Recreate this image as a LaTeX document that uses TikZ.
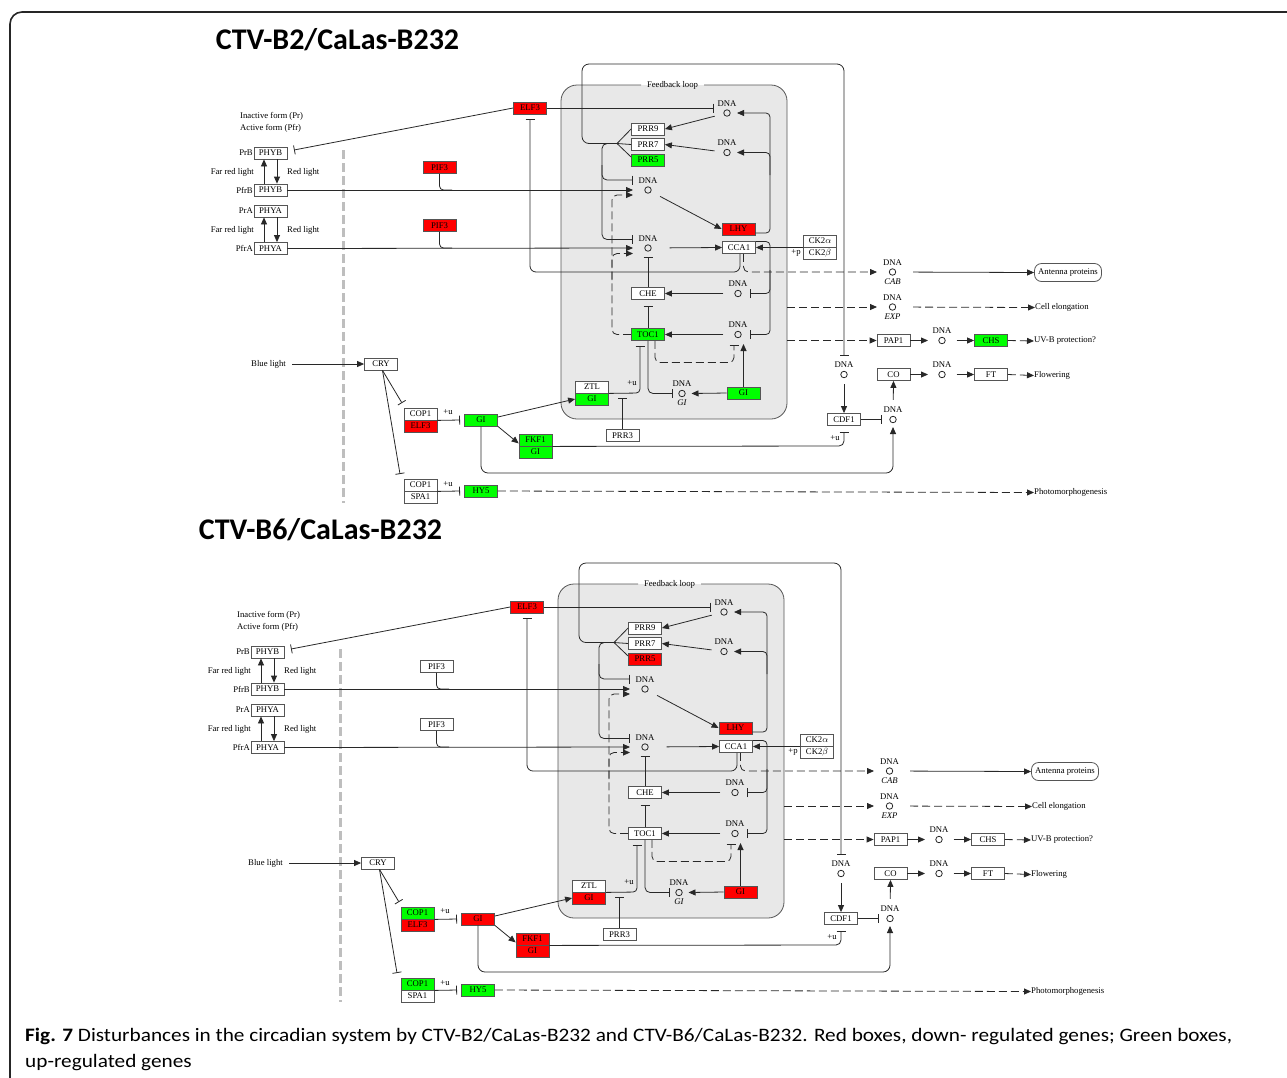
\documentclass[tikz,border=0pt]{standalone}
\usepackage{fontspec}
\setmainfont{Liberation Serif}
\newfontfamily\capfont{Carlito}
\usetikzlibrary{arrows.meta}

\definecolor{kred}{RGB}{255,0,0}
\definecolor{kgreen}{RGB}{0,255,0}
\definecolor{kline}{RGB}{40,40,40}
\definecolor{kbox}{RGB}{85,85,85}
\definecolor{kloop}{RGB}{232,232,232}
\definecolor{kdiv}{RGB}{190,190,190}

\newsavebox\capbox
\newdimen\capw

\tikzset{
  kfont/.style={font=\fontsize{8.7}{9}\selectfont},
  tx/.style={kfont, inner sep=0pt},
  gene/.style={draw=kbox, line width=0.8pt, fill=white, minimum width=33pt,
    minimum height=12pt, inner sep=0pt, kfont},
  gw/.style={fill=white}, gr/.style={fill=kred}, gg/.style={fill=kgreen},
  dna/.style={circle, draw=kline, line width=0.8pt, minimum size=6.5pt, inner sep=0pt,
    label={[tx, label distance=3pt]above:DNA}},
  glab/.style={label={[inner sep=0pt, label distance=2.5pt,
    font=\fontsize{8.7}{9}\selectfont\itshape]below:#1}},
  ln/.style={draw=kline, line width=0.8pt},
  act/.style={ln, -{Triangle[length=7pt,width=6pt]}},
  inh/.style={ln, -{Bar[width=9pt]}},
  dsh/.style={dash pattern=on 8pt off 4pt},
}

% one copy of the pathway; #1 = offset, #2 = name prefix
\newcommand\kpanel[2]{%
\begin{scope}[shift={(#1)}, name prefix=#2-]
  % feedback loop region
  \fill[kloop, rounded corners=16pt] (561,85) rectangle (787,419);
  \draw[kbox, line width=0.8pt, rounded corners=16pt]
    (641,85) -- (561,85) -- (561,419) -- (787,419) -- (787,85) -- (704,85);
  \node[tx] (looplab) at (672.5,85.5) {Feedback loop};

  % light reception
  \node[tx, anchor=west] (txInact) at (240,116) {Inactive form (Pr)};
  \node[tx, anchor=west] (txAct) at (240,128) {Active form (Pfr)};
  \node[gene] (PHYBr) at (270.5,153) {PHYB};
  \node[gene] (PHYBfr) at (270.5,190) {PHYB};
  \node[gene] (PHYAr) at (270.5,211) {PHYA};
  \node[gene] (PHYAfr) at (270.5,248.5) {PHYA};
  \node[tx, anchor=east] (lPrB) at (253,153) {PrB};
  \node[tx, anchor=east] (lPfrB) at (253,190) {PfrB};
  \node[tx, anchor=east] (lPrA) at (253,211) {PrA};
  \node[tx, anchor=east] (lPfrA) at (253,248.5) {PfrA};
  \node[tx, anchor=east] (frB) at (254,172.5) {Far red light};
  \node[tx, anchor=west] (rB) at (287,172.5) {Red light};
  \node[tx, anchor=east] (frA) at (254,230) {Far red light};
  \node[tx, anchor=west] (rA) at (287,230) {Red light};
  \draw[act] ([xshift=-6.5pt]PHYBfr.north) -- ([xshift=-6.5pt]PHYBr.south);
  \draw[act] ([xshift=6.5pt]PHYBr.south) -- ([xshift=6.5pt]PHYBfr.north);
  \draw[act] ([xshift=-6.5pt]PHYAfr.north) -- ([xshift=-6.5pt]PHYAr.south);
  \draw[act] ([xshift=6.5pt]PHYAr.south) -- ([xshift=6.5pt]PHYAfr.north);

  \draw[kdiv, line width=3.5pt, dash pattern=on 9pt off 4pt] (343.5,150) -- (343.5,503);

  % genes
  \node[gene,gr] (ELF3) at (530,108) {ELF3};
  \node[gene,\fPIF] (PIF3a) at (439.5,167.5) {PIF3};
  \node[gene,\fPIF] (PIF3b) at (439.5,225.5) {PIF3};
  \node[gene] (PRR9) at (648,129) {PRR9};
  \node[gene] (PRR7) at (648,144.5) {PRR7};
  \node[gene,\fPRRfive] (PRR5) at (648,160) {PRR5};
  \node[gene,gr] (LHY) at (738.5,229) {LHY};
  \node[gene] (CCA1) at (739,247.5) {CCA1};
  \node[gene] (CK2a) at (820,241) {CK2$\alpha$};
  \node[gene] (CK2b) at (820,253) {CK2$\beta$};
  \node[tx] (plusp) at (796,253) {+p};
  \node[gene] (CHE) at (648,293.5) {CHE};
  \node[gene,\fTOC] (TOC1) at (648,334.5) {TOC1};
  \node[gene] (ZTL) at (592,387) {ZTL};
  \node[gene,\fZGI] (ZGI) at (592,399) {GI};
  \node[gene] (PRR3) at (622.5,435.5) {PRR3};
  \node[gene,\fGIr] (GIr) at (743.5,393) {GI};
  \node[gene] (CRY) at (381,364) {CRY};
  \node[gene,\fCOPa] (COP1a) at (420.5,414) {COP1};
  \node[gene,gr] (ELF3b) at (420.5,426) {ELF3};
  \node[gene,\fGIm] (GIm) at (481,420) {GI};
  \node[gene,\fFKF] (FKF1) at (535.5,440) {FKF1};
  \node[gene,\fFGI] (FGI) at (535.5,452) {GI};
  \node[gene,\fCOPb] (COP1b) at (420.5,485) {COP1};
  \node[gene] (SPA1) at (420.5,497) {SPA1};
  \node[gene,gg] (HY5) at (481,491) {HY5};
  \node[gene] (CDF1) at (844,419.5) {CDF1};
  \node[gene] (CO) at (893.5,374.5) {CO};
  \node[gene] (FT) at (991,374.5) {FT};
  \node[gene] (PAP1) at (893.5,340.5) {PAP1};
  \node[gene,\fCHS] (CHS) at (991,340.5) {CHS};
  \node[draw=kbox, line width=0.8pt, rounded corners=7pt, minimum width=67pt,
    minimum height=18pt, inner sep=0pt, kfont] (Ant) at (1068,272.5) {Antenna proteins};

  % transcription sites
  \node[dna] (D1) at (727,113) {};
  \node[dna] (D2) at (727,152.5) {};
  \node[dna] (D3) at (648,190) {};
  \node[dna] (D4) at (648,248) {};
  \node[dna] (DChe) at (738,293.5) {};
  \node[dna] (DToc) at (738,334.5) {};
  \node[dna, glab=GI] (DGI) at (682,393.5) {};
  \node[dna, glab=CAB] (DCab) at (892.5,272) {};
  \node[dna, glab=EXP] (DExp) at (892.5,307) {};
  \node[dna] (DChs) at (942,340.5) {};
  \node[dna] (DFt) at (942,374.5) {};
  \node[dna] (DCo) at (893,419.5) {};
  \node[dna] (DCdf) at (844,374.5) {};

  % output texts
  \node[tx, anchor=west] (txCell) at (1035,307.5) {Cell elongation};
  \node[tx, anchor=west] (txUV) at (1034,341) {UV-B protection?};
  \node[tx, anchor=west] (txFlow) at (1034,375.5) {Flowering};
  \node[tx, anchor=west] (txPhoto) at (1034,492.5) {Photomorphogenesis};
  \node[tx, anchor=east] (txBlue) at (286,364) {Blue light};
  \node[tx] (u1) at (448,412.5) {+u};
  \node[tx] (u2) at (448,484) {+u};
  \node[tx] (u3) at (632,383) {+u};
  \node[tx] (u4) at (835,438) {+u};

  % junction and end points
  \coordinate (fork) at (617,143.5);
  \coordinate (d3in) at (633,190);
  \coordinate (d4in) at (633,248);
  \coordinate (pj1) at (452,190);
  \coordinate (pj2) at (452,248);
  \coordinate (phybBar) at (294,150);
  \coordinate (d1bar) at (714,108);
  \coordinate (d1in) at (737,113);
  \coordinate (d2in) at (737,152.5);
  \coordinate (d3bar) at (632.5,180);
  \coordinate (d4bar) at (632.5,239.5);
  \coordinate (d3din) at (633,195);
  \coordinate (d4din) at (633,253.5);
  \coordinate (dcdfbar) at (844,356);
  \coordinate (dchebar) at (750,293.5);
  \coordinate (dtocbar) at (750,334.5);
  \coordinate (d4bot) at (648,257);
  \coordinate (chebot) at (648,306);
  \coordinate (elfbar) at (530,119);
  \coordinate (dcabin) at (877,272);
  \coordinate (loopE1) at (787,307);
  \coordinate (loopE2) at (787,340.5);
  \coordinate (dexpin) at (877,307);
  \coordinate (dchsin) at (928,340.5);
  \coordinate (dftin) at (928,374.5);
  \coordinate (dcobar) at (881.5,419.5);
  \coordinate (dcoin) at (893,427);
  \coordinate (cdfbar) at (844,432);
  \coordinate (cop1abar) at (402,403);
  \coordinate (cop1bbar) at (400,474);
  \coordinate (gimbar) at (460,420);
  \coordinate (hy5bar) at (460,491);
  \coordinate (toc1bar) at (640,346);
  \coordinate (prr3bar) at (622.5,398);
  \coordinate (dgibar) at (673,393.5);
  \coordinate (dtocbot) at (734,345);
  \coordinate (dtocin) at (743.5,344);
  \coordinate (dgiin) at (691.5,393.5);

  % light input
  \draw[act] (PHYBfr.east) -- (d3in);
  \draw[act] (PHYAfr.east) -- (d4in);
  \draw[ln, rounded corners=4pt] (PIF3a.south) |- (pj1);
  \draw[ln, rounded corners=4pt] (PIF3b.south) |- (pj2);
  \draw[inh] (ELF3.west) -- (phybBar);
  \draw[inh] (ELF3.east) -- (d1bar);

  % PRR branch
  \draw[act, shorten <=9pt] (D1) -- (PRR9.east);
  \draw[act, shorten <=9pt] (D2) -- (PRR7.east);
  \draw[ln] (fork) -- (PRR9.west);
  \draw[ln] (fork) -- (PRR7.west);
  \draw[ln] (fork) -- ([yshift=3pt]PRR5.west);
  \draw[inh, rounded corners=7pt] (fork) -- (582,143.5) -- (582,64) -- (844,64) -- (dcdfbar);
  \draw[inh, rounded corners=5pt] (fork) -- (602,143.5) -- (602,239.5) -- (d4bar);
  \draw[inh, rounded corners=5pt] (602,165) |- (d3bar);

  % LHY / CCA1
  \draw[act, shorten <=10pt] (D3) -- (LHY.west);
  \draw[act, shorten <=18pt] (D4) -- (CCA1.west);
  \draw[act] (CK2a.south west) -- (CCA1.east);
  \draw[act, rounded corners=4pt] ([yshift=-4pt]LHY.east) -- (770,233) -- (770,113) -- (d1in);
  \draw[act, rounded corners=4pt] (770,175) |- (d2in);
  \draw[inh, rounded corners=4pt] ([yshift=6pt]CCA1.east) -- (770,241.5) -- (770,334.5) -- (dtocbar);
  \draw[inh, rounded corners=4pt] (770,270) |- (dchebar);
  \draw[inh, rounded corners=6pt] ([xshift=1pt]CCA1.south) -- (740,272) -- (530,272) -- (elfbar);
  \draw[act, dsh, rounded corners=5pt] ([xshift=4.5pt]CCA1.south) -- (743.5,272) -- (dcabin);

  % CHE / TOC1
  \draw[act, shorten <=11pt] (DChe) -- (CHE.east);
  \draw[act, shorten <=11pt] (DToc) -- (TOC1.east);
  \draw[inh] (CHE.north) -- (d4bot);
  \draw[inh] (TOC1.north) -- (chebot);
  \draw[act, dsh, rounded corners=5pt] (TOC1.west) -- (612,334.5) -- (612,195) -- (d3din);
  \draw[act, dsh, rounded corners=5pt] (612,280) |- (d4din);
  \draw[inh, rounded corners=5pt] (TOC1.south) -- (648,393.5) -- (dgibar);
  \draw[inh, dsh, rounded corners=5pt] ([xshift=7pt]TOC1.south) -- (655,362.5) -- (734,362.5) -- (dtocbot);
  \draw[act] (GIr.north) -- (dtocin);
  \draw[act] (GIr.west) -- (dgiin);
  \draw[inh, rounded corners=4pt] (ZTL.south east) -- (640,393) -- (toc1bar);
  \draw[inh] (PRR3.north) -- (prr3bar);

  % outputs
  \draw[act, shorten <=17pt] (DCab) -- (Ant.west);
  \draw[act, dsh] (loopE1) -- (dexpin);
  \draw[act, dsh, shorten <=17pt] (DExp) -- (txCell.west);
  \draw[act, dsh] (loopE2) -- (PAP1.west);
  \draw[act] (PAP1.east) -- (dchsin);
  \draw[act, shorten <=11pt] (DChs) -- (CHS.west);
  \draw[act, dsh] (CHS.east) -- (txUV.west);
  \draw[act] (CO.east) -- (dftin);
  \draw[act, shorten <=11pt] (DFt) -- (FT.west);
  \draw[act, dsh] (FT.east) -- (txFlow.west);
  \draw[act, shorten <=6pt] (DCdf) -- (CDF1.north);
  \draw[inh] (CDF1.east) -- (dcobar);
  \draw[act, shorten <=16pt] (DCo) -- (CO.south);

  % blue light branch
  \draw[act, shorten <=6pt] (txBlue.east) -- (CRY.west);
  \draw[inh] ([xshift=1.5pt]CRY.south) -- (cop1abar);
  \draw[inh] ([xshift=1.5pt]CRY.south) -- (cop1bbar);
  \draw[inh] (COP1a.south east) -- (gimbar);
  \draw[act] ([yshift=3pt]GIm.east) -- (ZGI.west);
  \draw[act] (GIm.south east) -- ([yshift=3pt]FKF1.south west);
  \draw[act, rounded corners=7pt] (GIm.south) -- (481,473) -- (893,473) -- (dcoin);
  \draw[inh, rounded corners=5pt] (FKF1.south east) -- (844,446) -- (cdfbar);
  \draw[inh] (COP1b.south east) -- (hy5bar);
  \draw[act, dsh] (HY5.east) -- (txPhoto.west);
\end{scope}}

\begin{document}
% caption line, measured before the picture so it can be fitted to the frame width
\sbox\capbox{\capfont\fontsize{19}{23}\selectfont\textbf{Fig. 7} Disturbances in the circadian system by CTV-B2/CaLas-B232 and CTV-B6/CaLas-B232. Red boxes, down- regulated genes; Green boxes,}%
\capw=\wd\capbox
\pgfmathsetmacro\capsc{1207/\capw}%
\begin{tikzpicture}[x=1pt, y=-1pt]
  \useasboundingbox (0,0) rectangle (1287,1077);
  \clip (0,0) rectangle (1287,1077);
  \fill[white] (0,0) rectangle (1287,1077);
  \draw[black!85, line width=1.6pt, rounded corners=12pt] (10,1120) -- (10,12) -- (1300,12);

  \node[font=\capfont\bfseries\fontsize{30}{32}\selectfont, inner sep=0pt] (title1) at (337.5,40) {CTV-B2/CaLas-B232};
  \node[font=\capfont\bfseries\fontsize{30}{32}\selectfont, inner sep=0pt] (title2) at (320.5,530) {CTV-B6/CaLas-B232};

  \def\fPIF{gr}\def\fPRRfive{gg}\def\fTOC{gg}\def\fZGI{gg}\def\fGIr{gg}\def\fCOPa{gw}%
  \def\fGIm{gg}\def\fFKF{gg}\def\fFGI{gg}\def\fCOPb{gw}\def\fCHS{gg}%
  \kpanel{0,0}{t}

  \def\fPIF{gw}\def\fPRRfive{gr}\def\fTOC{gw}\def\fZGI{gr}\def\fGIr{gr}\def\fCOPa{gg}%
  \def\fGIm{gr}\def\fFKF{gr}\def\fFGI{gr}\def\fCOPb{gg}\def\fCHS{gw}%
  \kpanel{-3,499}{b}

  % caption
  \node[anchor=base west, inner sep=0pt] (cap1) at (25,1041.5) {\scalebox{\capsc}[1]{\usebox\capbox}};
  \node[anchor=base west, inner sep=0pt] (cap2) at (25,1067)
    {\scalebox{\capsc}[1]{\capfont\fontsize{19}{23}\selectfont up-regulated genes}};
\end{tikzpicture}
\end{document}
